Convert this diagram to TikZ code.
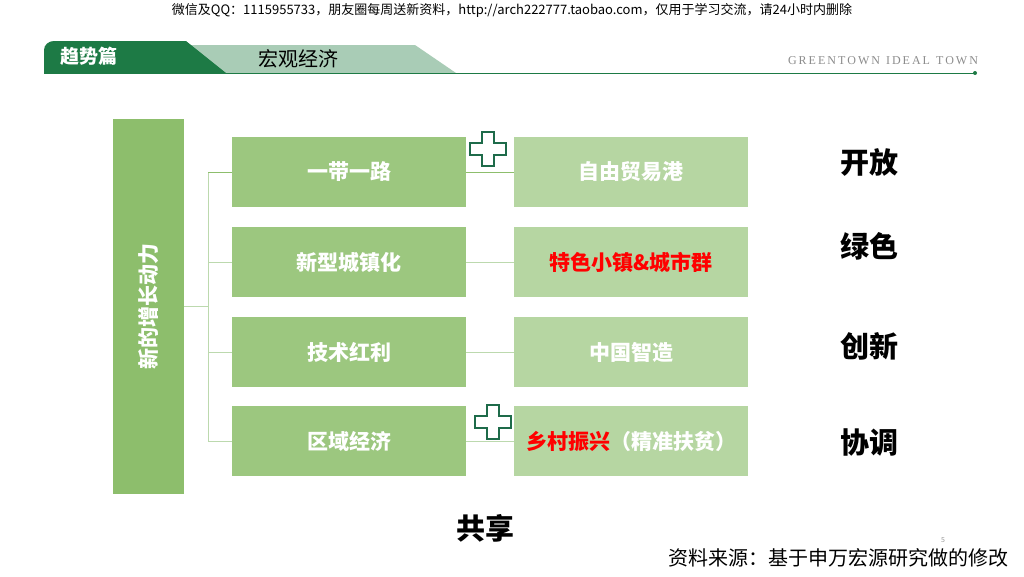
\documentclass[tikz,border=0pt]{standalone}
\usepackage{fontspec}
\setmainfont{Noto Sans CJK SC}
\newfontfamily\brandfont{Liberation Serif}
\usetikzlibrary{positioning}
\definecolor{TabGreen}{HTML}{1D7A45}
\definecolor{TabSage}{HTML}{A9CCB6}
\definecolor{DriveGreen}{HTML}{8DBE6C}
\definecolor{PathGreen}{HTML}{9CC77F}
\definecolor{GoalGreen}{HTML}{B6D6A2}
\definecolor{LinkGreen}{HTML}{BCD9AE}
\definecolor{CrossGreen}{HTML}{1E6B4A}
\newcommand{\fsz}[1]{\fontsize{#1pt}{#1pt}\selectfont}

\begin{document}
\begin{tikzpicture}[x=1pt,y=-1pt,
  pathbox/.style={fill=PathGreen,minimum width=234pt,minimum height=70pt,text=white,font=\fsz{21}\bfseries},
  goalbox/.style={fill=GoalGreen,minimum width=234pt,minimum height=70pt,text=white,font=\fsz{21}\bfseries},
  value/.style={font=\fsz{29}\bfseries},
  link/.style={LinkGreen,line width=1pt},
  crossmark/.pic={\draw[CrossGreen,fill=white,line width=1.2pt]
    (-6,-17)--(6,-17)--(6,-6)--(18,-6)--(18,6)--(6,6)--(6,17)--(-6,17)--(-6,6)--(-18,6)--(-18,-6)--(-6,-6)--cycle;}]
\useasboundingbox[fill=white] (0,0) rectangle (1024,576);
% header
\node[font=\fsz{13}] (note) at (512,10) {微信及QQ：1115955733，朋友圈每周送新资料，http://arch222777.taobao.com，仅用于学习交流，请24小时内删除};
\fill[TabSage] (180,45)--(415,45)--(456,73)--(200,73)--cycle;
\fill[TabGreen] (44,73)--(44,50) to[out=90,in=180] (54,41)--(186,41)--(226,73)--cycle;
\draw[TabGreen,line width=1pt] (44,73)--(975,73);
\fill[TabGreen] (975,73) circle (2pt);
\node[text=white,font=\fsz{19}\bfseries] (part) at (89,56) {趋势篇};
\node[font=\fsz{20}] (topic) at (298,59) {宏观经济};
\node[text=black!45,font=\brandfont\fsz{12}] (brand) at (883,61) {G\,R\,E\,E\,N\,T\,O\,W\,N\ \ I\,D\,E\,A\,L\ \ T\,O\,W\,N};
% drivers and targets
\node[fill=DriveGreen,minimum width=71pt,minimum height=375pt] (drive) at (148.5,306.5) {};
\node[rotate=90,text=white,font=\fsz{21}\bfseries] (drivetxt) at (drive) {新的增长动力};
\node[pathbox] (road) at (349,172) {一带一路};
\node[pathbox] (urban) at (349,262) {新型城镇化};
\node[pathbox] (tech) at (349,352) {技术红利};
\node[pathbox] (region) at (349,441) {区域经济};
\node[goalbox] (port) at (631,172) {自由贸易港};
\node[goalbox,text=red] (town) at (631,262) {特色小镇\&城市群};
\node[goalbox] (made) at (631,352) {中国智造};
\node[goalbox] (rural) at (631,441) {{\color{red}乡村振兴}（精准扶贫）};
\coordinate (trunktop) at (208,172);
\coordinate (trunkbot) at (208,441);
\draw[link] (trunktop)--(trunkbot);
\draw[link] (drive.east)--(drive.east -| trunktop);
\draw[link,DriveGreen] (trunktop)--(road.west);
\foreach \n in {urban,tech,region}
  \draw[link] (\n.west -| trunktop)--(\n.west);
\draw[link,DriveGreen] (road)--(port);
\draw[link] (urban)--(town);
\draw[link] (tech)--(made);
\draw[link] (region)--(rural);
\pic at (488,149) {crossmark};
\pic at (493,422) {crossmark};
% five ideas
\node[value] (open) at (869,162) {开放};
\node[value] (green) at (869,246) {绿色};
\node[value] (innov) at (869,346) {创新};
\node[value] (coord) at (869,442) {协调};
\node[value] (share) at (485,528) {共享};
\node[font=\fsz{20}] (source) at (838,558) {资料来源：基于申万宏源研究做的修改};
\node[text=black!40,font=\fsz{7}] (page) at (943,540) {5};
\end{tikzpicture}
\end{document}
